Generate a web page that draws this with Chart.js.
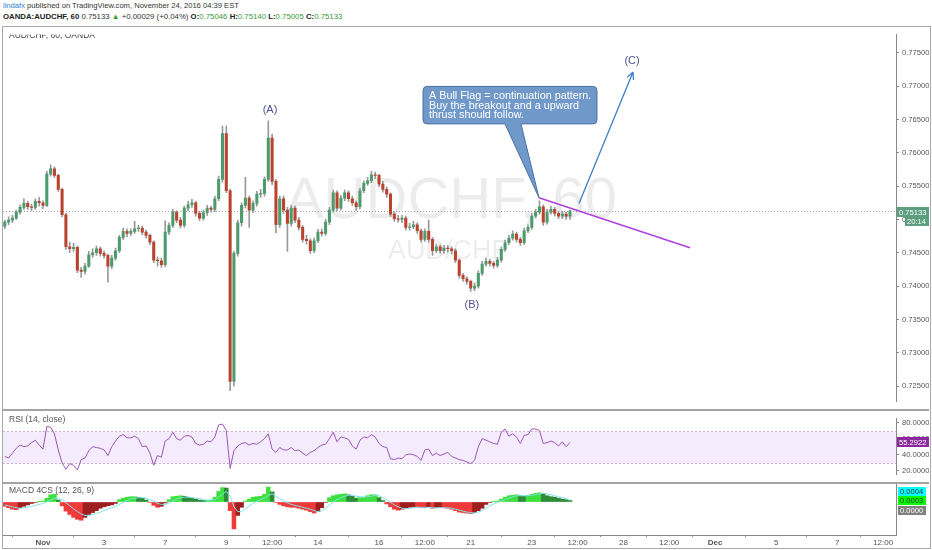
<!DOCTYPE html>
<html>
<head>
<meta charset="utf-8">
<script src="https://cdn.jsdelivr.net/npm/chart.js@4.4.1/dist/chart.umd.min.js"></script>
<style>
  html, body { margin:0; padding:0; background:#ffffff; }
  body { width:932px; height:550px; position:relative; overflow:hidden; font-family:"Liberation Sans", Arial, sans-serif; }
  .hdr { position:absolute; left:3px; white-space:nowrap; color:#333; }
  #h1 { top:1px; font-size:7.6px; line-height:10px; }
  #h2 { top:12px; font-size:7.8px; line-height:10px; }
  #h1 .user { color:#2a7fcf; }
  #h2 b { color:#222; }
  #h2 .g { color:#3a9a3a; }
  #frame { position:absolute; left:2px; top:26px; width:929px; height:523px; border:1px solid #a9a9a9; box-sizing:border-box; }
  .pane { position:absolute; left:3px; }
  .sep { position:absolute; left:3px; width:926px; height:2px; background:#a3a3a3; }
</style>
</head>
<body>
<div id="h1" class="hdr"><span class="user">lindafx</span> published on TradingView.com, November 24, 2016 04:39 EST</div>
<div id="h2" class="hdr"><b>OANDA:AUDCHF, 60</b> 0.75133 <span class="g">▲</span> +0.00029 (+0.04%) <b>O:</b><span class="g">0.75046</span> <b>H:</b><span class="g">0.75140</span> <b>L:</b><span class="g">0.75005</span> <b>C:</b><span class="g">0.75133</span></div>
<div id="frame"></div>
<canvas id="cPrice" class="pane" style="top:27px" width="926" height="382"></canvas>
<div class="sep" style="top:409px"></div>
<canvas id="cRsi" class="pane" style="top:411px" width="926" height="71"></canvas>
<div class="sep" style="top:482px"></div>
<canvas id="cMacd" class="pane" style="top:484px" width="926" height="64"></canvas>
<script>
const FONT = '"Liberation Sans", Arial, sans-serif';
Chart.defaults.font.family = FONT;

// ---- time axis: trading days counted from Nov 1 ----
const xMin = -1.309, xMax = 27.921;
const barStart = -1.25, barStep = 0.125;           // 3-hour bars
const timeTickT = [0, 2, 4, 6, 7.5, 9, 11, 12.5, 14, 16, 17.5, 19, 20.5, 22, 24, 26, 27.5];
const timeTickLabels = ['Nov','3','7','9','12:00','14','16','12:00','21','23','12:00','28','12:00','Dec','5','7','12:00'];
const boldLabels = ['Nov','Dec'];

// ---- price (in 1e-4 units) ----
const opens = [
7490,7496,7499,7502,7511,7518,7524,7519,7518,7527,
7525,7521,7568,7576,7566,7545,7507,7459,7456,7458,
7424,7422,7430,7447,7450,7456,7449,7446,7430,7442,
7453,7473,7482,7479,7482,7486,7487,7481,7476,7466,
7439,7438,7432,7481,7491,7511,7499,7491,7517,7522,
7525,7509,7502,7510,7517,7515,7531,7560,7629,7543,
7257,7449,7495,7521,7532,7514,7524,7538,7539,7560,
7622,7557,7492,7531,7514,7494,7517,7499,7488,7470,
7468,7453,7468,7481,7479,7496,7514,7540,7517,7532,
7540,7531,7525,7519,7543,7554,7558,7567,7566,7553,
7545,7538,7508,7501,7500,7502,7488,7489,7492,7483,
7470,7482,7470,7453,7459,7453,7457,7456,7453,7439,
7416,7411,7407,7397,7400,7419,7433,7437,7434,7431,
7439,7455,7465,7472,7478,7470,7465,7483,7488,7505,
7511,7519,7496,7511,7515,7509,7505,7508,7505];
const highs = [
7499,7504,7506,7514,7522,7531,7527,7523,7531,7533,
7528,7572,7582,7579,7568,7547,7509,7466,7464,7460,
7428,7434,7452,7456,7460,7459,7453,7448,7446,7457,
7476,7487,7486,7486,7497,7491,7490,7484,7478,7468,
7444,7442,7498,7495,7515,7513,7503,7520,7527,7530,
7527,7512,7514,7521,7520,7535,7565,7640,7640,7545,
7452,7499,7525,7563,7535,7528,7542,7545,7564,7648,
7628,7560,7535,7535,7518,7521,7520,7503,7491,7476,
7471,7472,7485,7486,7500,7518,7544,7543,7536,7544,
7543,7535,7528,7547,7558,7563,7572,7571,7568,7557,
7549,7540,7511,7506,7506,7505,7494,7497,7495,7486,
7486,7499,7473,7463,7462,7461,7461,7459,7456,7441,
7419,7414,7409,7405,7423,7437,7442,7440,7437,7443,
7459,7469,7476,7483,7481,7473,7487,7492,7509,7515,
7528,7522,7515,7520,7518,7512,7512,7511,7514];
const lows = [
7486,7492,7495,7500,7508,7515,7515,7513,7515,7520,
7516,7519,7565,7563,7542,7504,7455,7450,7452,7420,
7413,7418,7428,7443,7446,7445,7442,7406,7426,7439,
7450,7470,7474,7476,7479,7482,7477,7472,7462,7435,
7430,7428,7429,7477,7488,7495,7487,7488,7513,7518,
7505,7498,7499,7506,7511,7512,7528,7556,7540,7243,
7250,7445,7490,7517,7488,7510,7520,7533,7535,7557,
7552,7480,7488,7509,7452,7490,7495,7484,7466,7463,
7449,7450,7465,7475,7476,7492,7511,7513,7514,7528,
7527,7521,7514,7516,7540,7551,7555,7561,7549,7541,
7533,7504,7497,7496,7495,7484,7484,7486,7479,7466,
7467,7466,7446,7450,7449,7449,7451,7448,7435,7412,
7407,7403,7392,7393,7397,7416,7430,7430,7427,7428,
7436,7452,7462,7469,7466,7461,7462,7480,7485,7502,
7508,7491,7493,7508,7505,7501,7501,7500,7500];
const closes = [
7496,7499,7502,7511,7518,7524,7519,7518,7527,7525,
7521,7568,7576,7566,7545,7507,7459,7456,7458,7424,
7422,7430,7447,7450,7456,7449,7446,7430,7442,7453,
7473,7482,7479,7482,7486,7487,7481,7476,7466,7439,
7438,7432,7481,7491,7511,7499,7491,7517,7522,7525,
7509,7502,7510,7517,7515,7531,7560,7629,7543,7257,
7449,7495,7521,7532,7514,7524,7538,7539,7560,7622,
7557,7492,7531,7514,7494,7517,7499,7488,7470,7468,
7453,7468,7481,7479,7496,7514,7540,7517,7532,7540,
7531,7525,7519,7543,7554,7558,7567,7566,7553,7545,
7538,7508,7501,7500,7502,7488,7489,7492,7483,7470,
7482,7470,7453,7459,7453,7457,7456,7453,7439,7416,
7411,7407,7397,7400,7419,7433,7437,7434,7431,7439,
7455,7465,7472,7478,7470,7465,7483,7488,7505,7511,
7519,7496,7511,7515,7509,7505,7508,7505,7513];
const priceTicks = [0.725,0.73,0.735,0.74,0.745,0.75,0.755,0.76,0.765,0.77,0.775];
const lastPrice = 0.75133;

// ---- RSI (14) ----
const rsiValues = [
38,36,42,48,52,50,51,55,58,52,
47,75,74,66,46,30,22,29,27,21,
34,36,45,50,49,48,46,39,50,57,
63,65,61,61,63,60,50,51,42,27,
39,37,57,60,68,60,58,63,64,62,
54,52,53,57,56,62,77,78,70,23,
45,51,54,55,52,54,53,56,60,66,
47,43,49,46,46,49,45,46,42,39,
43,45,49,52,53,60,68,56,62,61,
59,51,47,58,62,61,65,62,54,50,
49,35,34,36,35,40,41,40,38,33,
46,47,39,42,39,41,43,38,36,34,
33,31,29,33,50,60,58,56,54,53,
68,72,63,66,62,54,64,65,72,72,
70,54,55,57,55,51,56,50,55.3];
const rsiTicks = [20,40,60,80];
const rsiLast = 55.2922;

// ---- MACD 4C (in 1e-4 units) ----
const macdHist = [
-0.9,-1.2,-1.5,-1.6,-1.2,-0.9,-0.6,-0.3,-0.1,0.05,
0.2,0.8,1.5,1.6,0.4,-0.8,-1.9,-2.6,-3.2,-3.6,
-3.8,-3.2,-2.6,-2.2,-1.8,-1.3,-1.0,-0.8,-0.6,-0.3,
0.5,0.8,1.0,1.1,1.1,1.0,0.8,0.4,-0.1,-0.7,
-1.1,-0.9,-0.2,0.5,1.1,1.2,1.3,1.2,1.0,0.8,
0.6,0.4,0.3,0.3,0.4,1.0,2.2,3.0,2.9,-1.8,
-5.6,-2.8,-1.1,0.2,0.6,1.0,1.1,1.2,1.6,3.1,
2.1,-0.1,-0.5,-0.8,-1.0,-1.1,-1.1,-1.3,-1.5,-1.7,
-2.0,-2.3,-2.0,-1.2,-0.1,0.9,1.3,1.5,1.6,1.7,
1.5,1.2,0.8,0.9,1.0,1.3,1.5,1.5,0.9,0.3,
-0.4,-1.0,-1.5,-1.7,-1.5,-1.3,-1.1,-1.0,-1.0,-1.2,
-1.2,-1.0,-1.3,-1.2,-1.1,-1.2,-1.3,-1.5,-1.8,-2.1,
-2.2,-2.3,-2.4,-2.2,-1.8,-1.3,-0.5,-0.1,0.05,0.2,
0.6,1.0,1.3,1.4,1.5,1.3,1.2,1.4,1.6,1.8,
1.9,1.7,1.3,1.1,1.0,0.8,0.6,0.5,0.3];
const macdSignal = [
-0.6,-0.8,-1.0,-1.2,-1.3,-1.2,-1.1,-0.9,-0.7,-0.5,
-0.3,0.0,0.4,0.8,0.8,0.4,-0.2,-0.8,-1.4,-2.0,
-2.5,-2.8,-2.8,-2.6,-2.4,-2.1,-1.8,-1.5,-1.2,-0.9,
-0.5,-0.1,0.3,0.6,0.8,0.9,0.9,0.8,0.5,0.2,
-0.3,-0.5,-0.5,-0.2,0.2,0.6,0.9,1.0,1.0,0.9,
0.8,0.7,0.5,0.4,0.4,0.5,1.0,1.7,2.2,1.2,
-1.0,-2.0,-2.0,-1.4,-0.8,-0.3,0.2,0.5,0.8,1.4,
1.7,1.2,0.7,0.2,-0.2,-0.5,-0.7,-0.9,-1.1,-1.3,
-1.5,-1.8,-2.0,-1.8,-1.3,-0.6,0.0,0.5,0.9,1.2,
1.4,1.4,1.2,1.1,1.0,1.1,1.2,1.4,1.3,0.9,
0.4,-0.1,-0.6,-1.0,-1.3,-1.4,-1.3,-1.2,-1.1,-1.1,
-1.2,-1.1,-1.2,-1.2,-1.2,-1.2,-1.2,-1.3,-1.5,-1.7,
-1.9,-2.1,-2.2,-2.3,-2.1,-1.8,-1.3,-0.8,-0.4,-0.1,
0.2,0.5,0.8,1.1,1.3,1.3,1.3,1.3,1.4,1.5,
1.7,1.8,1.7,1.5,1.3,1.1,0.9,0.7,0.4];
const macdTags = ['0.0004','0.0003','0.0000'];

// ---- texts / annotations (data coordinates: trading day, price) ----
const paneTitle = 'AUD/CHF, 60, OANDA';
const rsiTitle = 'RSI (14, close)';
const macdTitle = 'MACD 4CS (12, 26, 9)';
const watermark = ['AUDCHF, 60', 'AUD/CHF'];
const countdown = '20:14';
const waveLabels = ['(A)', '(B)', '(C)'];
const waveT = [7.43, 14.04, 19.28];
const waveP = [0.766354, 0.737104, 0.773847];
const flagT = [16.236, 21.178];
const flagP = [0.753242, 0.745749];
const arrowT = [17.545, 19.313];
const arrowP = [0.752378, 0.772118];
const calloutT = [12.439, 18.134];
const calloutP = [0.769957, 0.764337];
const pointerT = [15.123, 15.646];
const calloutLines = ['A Bull Flag = continuation pattern.', 'Buy the breakout and a upward', 'thrust should follow.'];

// ---- build ----
const AXW = 33;
const AXFONT = 7.6;
const tIdx = closes.map((_, i) => barStart + barStep * i);
const UP = '#4d9a6c', DOWN = '#b9432f', WICK = '#999999';
const wickData = tIdx.map((t, i) => ({x: t, y: [lows[i] / 1e4, highs[i] / 1e4]}));
const bodyData = tIdx.map((t, i) => ({x: t, y: [opens[i] / 1e4, closes[i] / 1e4]}));
const bodyColors = closes.map((c, i) => c >= opens[i] ? UP : DOWN);
const histColors = macdHist.map((v, i) => {
  const p = i > 0 ? macdHist[i - 1] : v;
  if (v >= 0) return v >= p ? '#3de03d' : '#2e8b3a';
  return v <= p ? '#f03a3a' : '#9e1f1f';
});

const common = {
  responsive: false, animation: false, devicePixelRatio: 1,
  layout: { padding: 0, autoPadding: false },
  plugins: { legend: { display: false }, tooltip: { enabled: false } }
};
const xHidden = { type: 'linear', min: xMin, max: xMax, offset: false, display: false };
const yAxisBase = (min, max, ticks, fmt) => ({
  position: 'right', min, max,
  afterFit: a => { a.width = AXW; },
  afterBuildTicks: a => { a.ticks = ticks.map(v => ({value: v})); },
  ticks: { callback: v => fmt(v), font: { size: AXFONT, family: FONT }, color: '#555', padding: 3 },
  grid: { drawOnChartArea: false, drawTicks: true, tickLength: 3, color: '#888' },
  border: { display: true, color: '#888' }
});

function drawTag(ctx, x0, x1, yc, h, bg, fg, text) {
  ctx.fillStyle = bg;
  ctx.fillRect(x0, Math.round(yc - h / 2), x1 - x0, h);
  ctx.fillStyle = fg;
  ctx.font = AXFONT + 'px ' + FONT;
  ctx.textAlign = 'left'; ctx.textBaseline = 'middle';
  ctx.fillText(text, x0 + 2, Math.round(yc - h / 2) + h / 2 + 0.5);
}

const pricePlugin = {
  id: 'pricePane',
  beforeDatasetsDraw(chart) {
    const {ctx, chartArea: a, scales: {y}} = chart;
    ctx.save();
    ctx.beginPath(); ctx.rect(a.left, a.top, a.right - a.left, a.bottom - a.top); ctx.clip();
    ctx.fillStyle = 'rgba(0,0,0,0.075)';
    ctx.textAlign = 'center'; ctx.textBaseline = 'alphabetic';
    ctx.font = '58px ' + FONT;
    ctx.fillText(watermark[0], 448, 191);
    ctx.font = '27px ' + FONT;
    ctx.fillText(watermark[1], 445, 232);
    const yl = Math.round(y.getPixelForValue(lastPrice)) + 0.5;
    ctx.strokeStyle = '#9a9a9a'; ctx.lineWidth = 1; ctx.setLineDash([1, 2]);
    ctx.beginPath(); ctx.moveTo(a.left, yl); ctx.lineTo(a.right, yl); ctx.stroke();
    ctx.setLineDash([]);
    ctx.fillStyle = '#444'; ctx.font = '8.5px ' + FONT;
    ctx.textAlign = 'left'; ctx.textBaseline = 'middle';
    ctx.fillText(paneTitle, 6, 8.5);
    ctx.restore();
  },
  afterDatasetsDraw(chart) {
    const {ctx, scales: {x, y}} = chart;
    const X = t => x.getPixelForValue(t), Y = p => y.getPixelForValue(p);
    ctx.save();
    // flag line
    ctx.strokeStyle = '#b03fdf'; ctx.lineWidth = 1.5;
    ctx.beginPath(); ctx.moveTo(X(flagT[0]), Y(flagP[0])); ctx.lineTo(X(flagT[1]), Y(flagP[1])); ctx.stroke();
    // arrow
    const ax0 = X(arrowT[0]), ay0 = Y(arrowP[0]), ax1 = X(arrowT[1]), ay1 = Y(arrowP[1]);
    ctx.strokeStyle = '#3d7fc6'; ctx.lineWidth = 1.3;
    ctx.beginPath(); ctx.moveTo(ax0, ay0); ctx.lineTo(ax1, ay1);
    const ang = Math.atan2(ay1 - ay0, ax1 - ax0);
    [-0.45, 0.45].forEach(d => {
      ctx.moveTo(ax1, ay1);
      ctx.lineTo(ax1 - 8 * Math.cos(ang + d), ay1 - 8 * Math.sin(ang + d));
    });
    ctx.stroke();
    // callout
    const bx0 = X(calloutT[0]), bx1 = X(calloutT[1]), by0 = Y(calloutP[0]), by1 = Y(calloutP[1]);
    const px0 = X(pointerT[0]), px1 = X(pointerT[1]);
    const tx = X(flagT[0]), ty = Y(flagP[0]);
    const r = 4;
    ctx.beginPath();
    ctx.moveTo(bx0 + r, by0);
    ctx.lineTo(bx1 - r, by0); ctx.arcTo(bx1, by0, bx1, by0 + r, r);
    ctx.lineTo(bx1, by1 - r); ctx.arcTo(bx1, by1, bx1 - r, by1, r);
    ctx.lineTo(px1, by1); ctx.lineTo(tx, ty); ctx.lineTo(px0, by1);
    ctx.lineTo(bx0 + r, by1); ctx.arcTo(bx0, by1, bx0, by1 - r, r);
    ctx.lineTo(bx0, by0 + r); ctx.arcTo(bx0, by0, bx0 + r, by0, r);
    ctx.closePath();
    ctx.fillStyle = '#7098c9'; ctx.fill();
    ctx.strokeStyle = '#4a72a6'; ctx.lineWidth = 1; ctx.stroke();
    ctx.fillStyle = '#ffffff'; ctx.font = '10.8px ' + FONT;
    ctx.textAlign = 'left'; ctx.textBaseline = 'middle';
    calloutLines.forEach((s, i) => ctx.fillText(s, bx0 + 6, by0 + 10 + i * 9.5));
    // wave labels
    ctx.fillStyle = '#50508f'; ctx.font = '11px ' + FONT; ctx.textAlign = 'center';
    waveLabels.forEach((s, i) => ctx.fillText(s, X(waveT[i]), Y(waveP[i])));
    ctx.restore();
  },
  afterDraw(chart) {
    const {ctx, chartArea: a, scales: {y}} = chart;
    const W = chart.width;
    const yc = y.getPixelForValue(lastPrice);
    ctx.save();
    drawTag(ctx, a.right + 1, W, yc + 1, 10, '#5c9f7e', '#ffffff', lastPrice.toFixed(5));
    drawTag(ctx, a.right + 9, W, yc + 10.5, 9, '#5c9f7e', '#ffffff', countdown);
    ctx.restore();
  }
};

const rsiPlugin = {
  id: 'rsiPane',
  beforeDatasetsDraw(chart) {
    const {ctx, chartArea: a, scales: {y}} = chart;
    ctx.save();
    const y70 = Math.round(y.getPixelForValue(70)) + 0.5, y30 = Math.round(y.getPixelForValue(30)) + 0.5;
    ctx.fillStyle = '#f4ebfd';
    ctx.fillRect(a.left, y70, a.right - a.left, y30 - y70);
    ctx.strokeStyle = '#c8b3dc'; ctx.lineWidth = 1; ctx.setLineDash([2, 2]);
    ctx.beginPath(); ctx.moveTo(a.left, y70); ctx.lineTo(a.right, y70);
    ctx.moveTo(a.left, y30); ctx.lineTo(a.right, y30); ctx.stroke();
    ctx.setLineDash([]);
    ctx.fillStyle = '#555'; ctx.font = '8.5px ' + FONT;
    ctx.textAlign = 'left'; ctx.textBaseline = 'middle';
    ctx.fillText(rsiTitle, 6, 9);
    ctx.restore();
  },
  afterDraw(chart) {
    const {ctx, chartArea: a, scales: {y}} = chart;
    ctx.save();
    drawTag(ctx, a.right + 1, chart.width, y.getPixelForValue(rsiLast), 10, '#8b2a9c', '#ffffff', rsiLast.toFixed(4));
    ctx.restore();
  }
};

const macdPlugin = {
  id: 'macdPane',
  beforeDatasetsDraw(chart) {
    const {ctx} = chart;
    ctx.save();
    ctx.fillStyle = '#555'; ctx.font = '8.5px ' + FONT;
    ctx.textAlign = 'left'; ctx.textBaseline = 'middle';
    ctx.fillText(macdTitle, 6, 7);
    ctx.restore();
  },
  afterDraw(chart) {
    const {ctx, chartArea: a} = chart;
    ctx.save();
    const bgs = ['#00ffff', '#00ff00', '#808080'], fgs = ['#333', '#333', '#fff'];
    macdTags.forEach((s, i) => drawTag(ctx, a.right + 2, chart.width - 3, a.top + 7 + i * 9.5, 9, bgs[i], fgs[i], s));
    ctx.restore();
  }
};

new Chart(document.getElementById('cPrice'), {
  type: 'bar',
  data: { datasets: [
    { data: wickData, backgroundColor: WICK, barThickness: 1, grouped: false, order: 2 },
    { data: bodyData, backgroundColor: bodyColors, barThickness: 2.4, grouped: false, order: 1 }
  ]},
  options: Object.assign({}, common, {
    scales: {
      x: xHidden,
      y: yAxisBase(0.722695, 0.777738, priceTicks, v => v.toFixed(5))
    }
  }),
  plugins: [pricePlugin]
});

new Chart(document.getElementById('cRsi'), {
  type: 'line',
  data: { datasets: [
    { data: tIdx.map((t, i) => ({x: t, y: rsiValues[i]})), borderColor: '#9d57b8', borderWidth: 1, pointRadius: 0, tension: 0 }
  ]},
  options: Object.assign({}, common, {
    scales: {
      x: xHidden,
      y: yAxisBase(15.61, 84.88, rsiTicks, v => v.toFixed(4))
    }
  }),
  plugins: [rsiPlugin]
});

new Chart(document.getElementById('cMacd'), {
  type: 'bar',
  data: { datasets: [
    { type: 'line', data: tIdx.map((t, i) => ({x: t, y: macdSignal[i] * 1e-4})), borderColor: '#7fe3ea', borderWidth: 1, pointRadius: 0, order: 0 },
    { type: 'bar', data: tIdx.map((t, i) => ({x: t, y: macdHist[i] * 1e-4})), backgroundColor: histColors, barThickness: 3.9, grouped: false, order: 1 }
  ]},
  options: Object.assign({}, common, {
    scales: {
      x: {
        type: 'linear', min: xMin, max: xMax, offset: false,
        afterFit: a => { a.height = 13; },
        afterBuildTicks: a => { a.ticks = timeTickT.map(v => ({value: v})); },
        ticks: {
          autoSkip: false, maxRotation: 0, minRotation: 0, padding: 1, color: '#555',
          callback: (v, i) => timeTickLabels[i],
          font: c => ({ size: 8, family: FONT, weight: boldLabels.includes(timeTickLabels[c.index]) ? 'bold' : 'normal' })
        },
        grid: { drawOnChartArea: false, drawTicks: true, tickLength: 2, color: '#888' },
        border: { display: true, color: '#888' }
      },
      y: {
        position: 'right', min: -6.875e-4, max: 3.75e-4,
        afterFit: a => { a.width = AXW; },
        ticks: { display: false },
        grid: { drawOnChartArea: false, drawTicks: false },
        border: { display: true, color: '#888' }
      }
    }
  }),
  plugins: [macdPlugin]
});
</script>
</body>
</html>
